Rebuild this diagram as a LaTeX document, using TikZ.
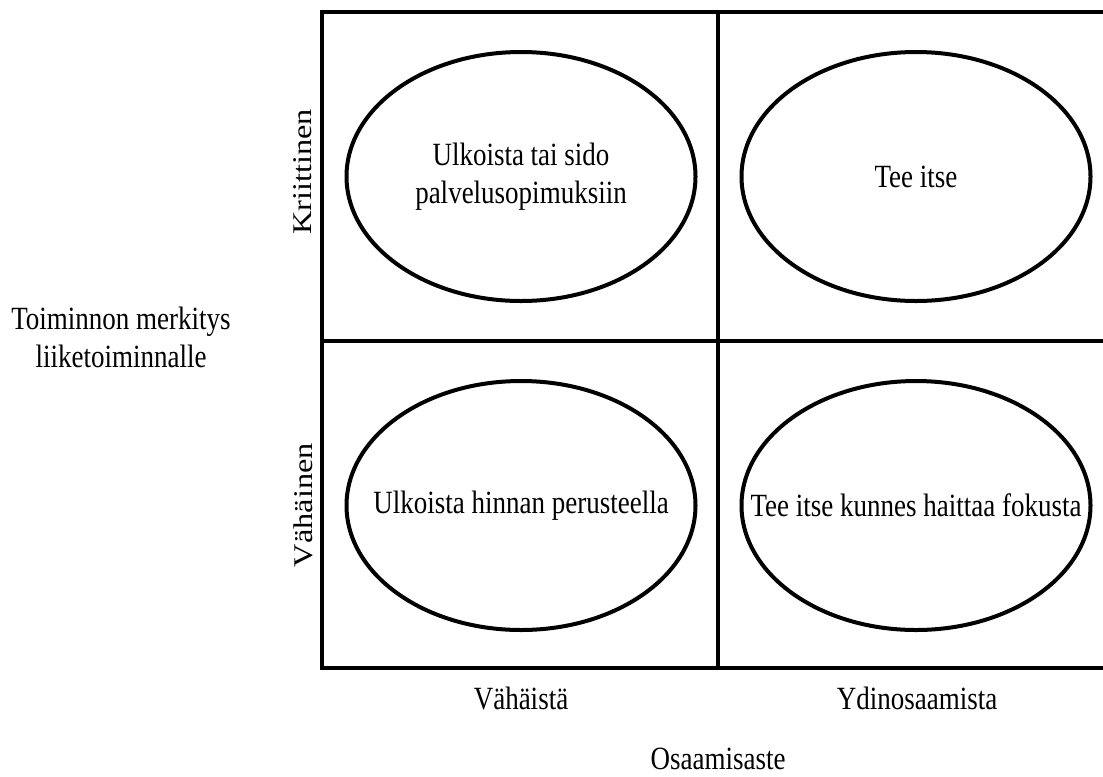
\documentclass[tikz,border=0pt]{standalone}
\usepackage{fontspec}
\setmainfont{Liberation Serif}
\usetikzlibrary{shapes.geometric}
\tikzset{
  gridln/.style={line width=2.6pt,line join=miter},
  quadoval/.style={ellipse,draw,line width=3pt,inner sep=0pt,
    minimum width=261.75pt,minimum height=186.75pt},
  quadtxt/.style={font=\fontsize{20.25}{23.75}\selectfont,align=center,
    inner sep=0pt,yscale=1.2},
  axlbl/.style={quadtxt},
  sidelbl/.style={font=\fontsize{20.25}{23.75}\selectfont,inner sep=0pt,
    rotate=90,xscale=1.2},
}
\begin{document}
\begin{tikzpicture}[x=0.75pt,y=-0.75pt]
  \useasboundingbox (0,0) rectangle (1103,776);
  \coordinate (nw) at (322,12);
  \coordinate (ne) at (1110,12);
  \coordinate (w) at (322,341);
  \coordinate (e) at (1110,341);
  \coordinate (sw) at (322,668);
  \coordinate (se) at (1110,668);
  \coordinate (n) at (718,12);
  \coordinate (s) at (718,668);
  \draw[gridln] (ne) -- (nw) -- (sw) -- (se);
  \draw[gridln] (w) -- (e);
  \draw[gridln] (n) -- (s);
  \node[quadoval] (tl) at (521,176.5) {};
  \node[quadoval] (tr) at (916,176.5) {};
  \node[quadoval] (bl) at (521,505.5) {};
  \node[quadoval] (br) at (916,505.5) {};
  \node[quadtxt] (tltxt) at (tl) {Ulkoista tai sido\\palvelusopimuksiin};
  \node[quadtxt] (trtxt) at (tr) {Tee itse};
  \node[quadtxt] (bltxt) at (bl) {Ulkoista hinnan perusteella};
  \node[quadtxt] (brtxt) at (br) {Tee itse kunnes haittaa fokusta};
  \node[sidelbl] (krit) at (303,172) {Kriittinen};
  \node[sidelbl] (vahainen) at (303,505) {Vähäinen};
  \node[axlbl] (merkitys) at (121,337) {Toiminnon merkitys\\liiketoiminnalle};
  \node[axlbl] (vahaista) at (521,698) {Vähäistä};
  \node[axlbl] (ydin) at (917,698) {Ydinosaamista};
  \node[axlbl] (osaam) at (718,759) {Osaamisaste};
\end{tikzpicture}
\end{document}
